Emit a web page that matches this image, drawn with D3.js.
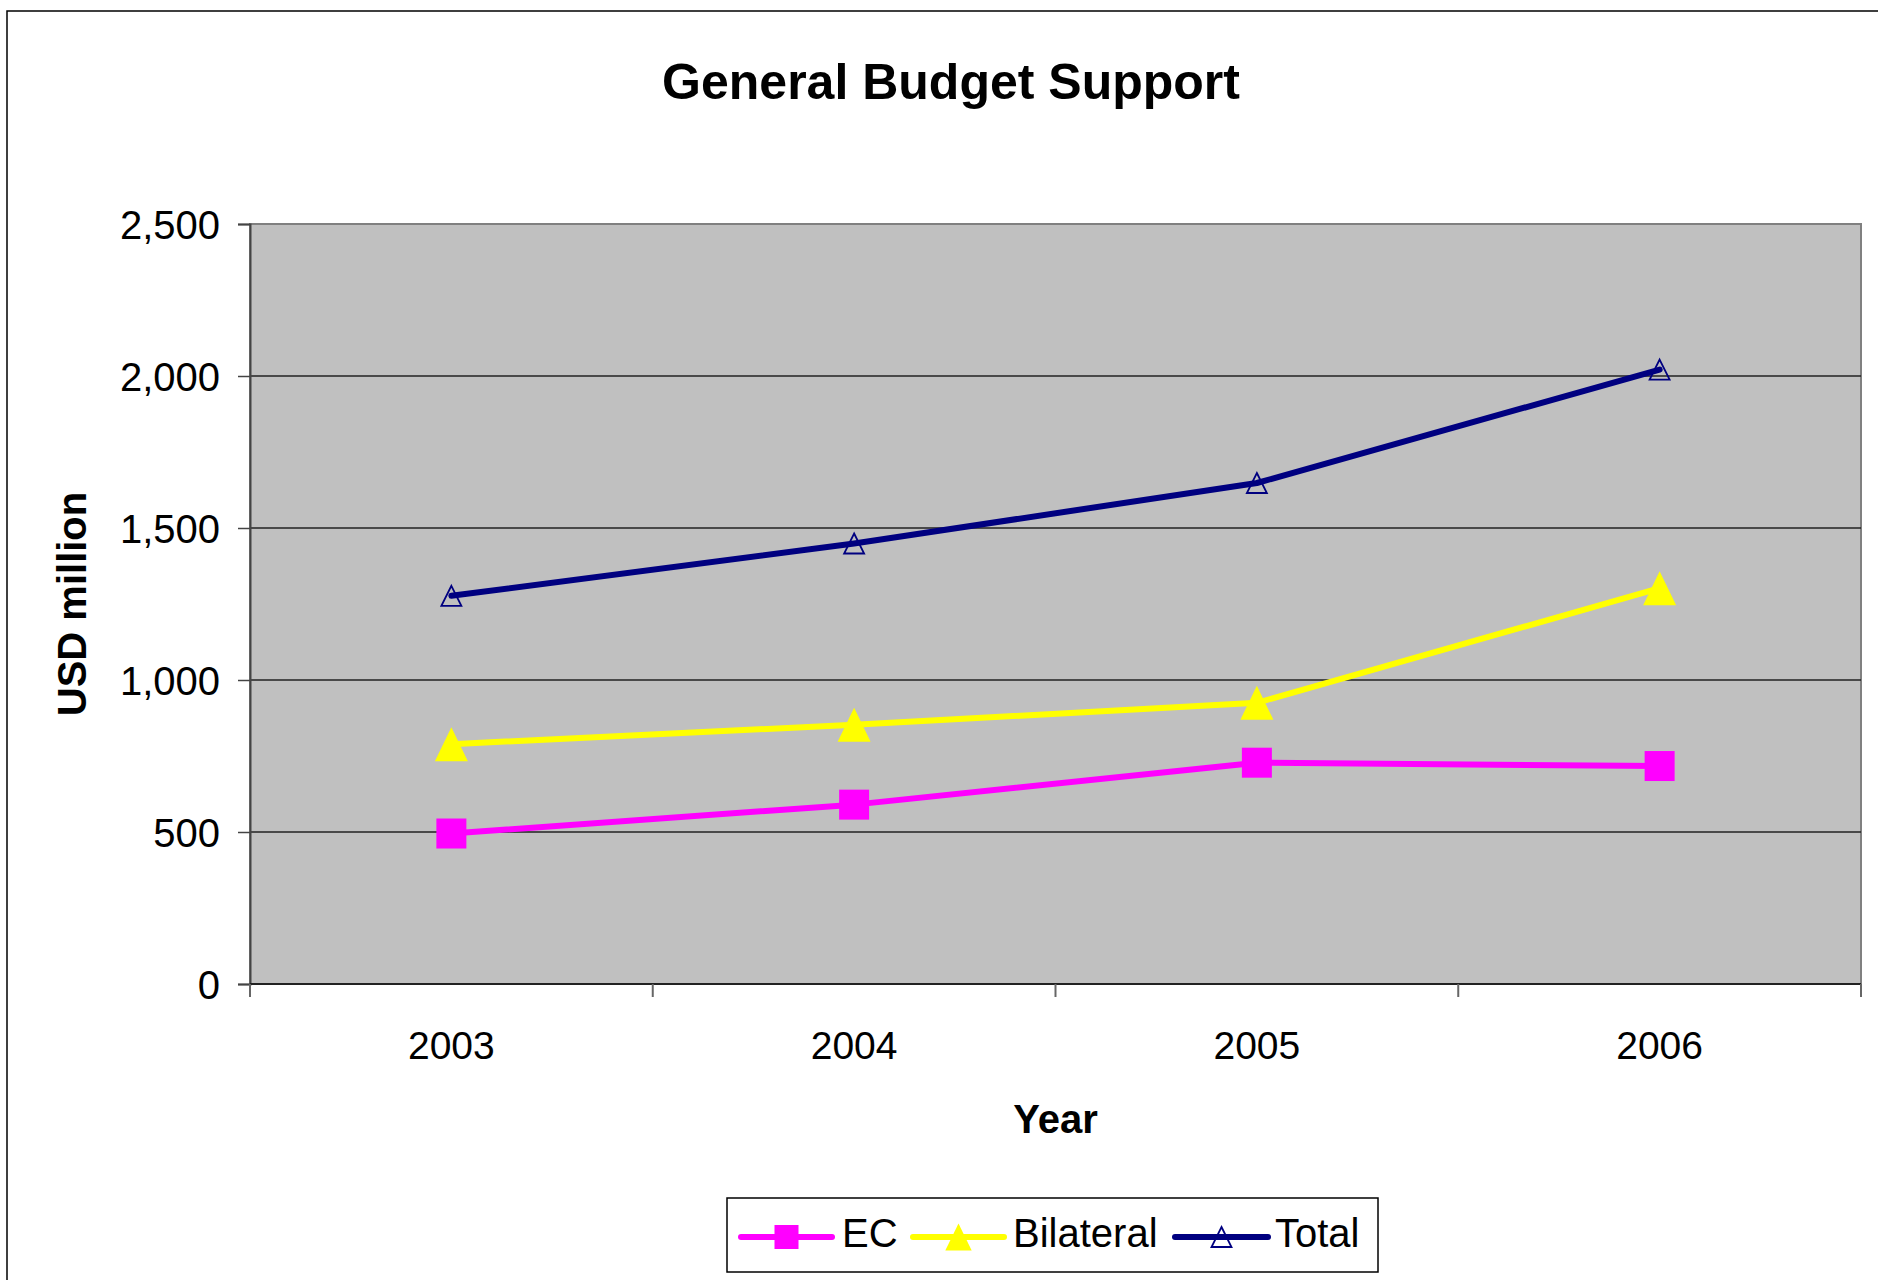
<!DOCTYPE html>
<html>
<head>
<meta charset="utf-8">
<script src="https://cdn.jsdelivr.net/npm/d3@7"></script>
<style>
  body { margin: 0; background: #fff; }
  svg { display: block; font-family: "Liberation Sans", Arial, sans-serif; }
</style>
</head>
<body>
<div id="chart"></div>
<script>
var w = 1878;
var h = 1280;

// data
var years = ["2003", "2004", "2005", "2006"];
var ec = [495, 590, 728, 717];
var bilateral = [789, 853, 925, 1302];
var total = [1277, 1449, 1648, 2021];
var yTicks = [0, 500, 1000, 1500, 2000, 2500];
var seriesNames = ["EC", "Bilateral", "Total"];

var series = [
  { name: seriesNames[0], values: ec, color: "#FF00FF", marker: "square" },
  { name: seriesNames[1], values: bilateral, color: "#FFFF00", marker: "triangle" },
  { name: seriesNames[2], values: total, color: "#000080", marker: "hollow" }
];

var plot = { left: 250, right: 1861, top: 224, bottom: 984 };

var svg = d3.select("#chart")
            .append("svg")
            .attr("width", w)
            .attr("height", h);

// outer chart border (right/bottom fall outside the window)
svg.append("rect")
   .attr("x", 7).attr("y", 11)
   .attr("width", 1900).attr("height", 1300)
   .attr("fill", "#fff")
   .attr("stroke", "#000")
   .attr("stroke-width", 1.5);

var x = d3.scaleBand()
          .domain(years)
          .range([plot.left, plot.right]);

var y = d3.scaleLinear()
          .domain([0, 2500])
          .range([plot.bottom, plot.top]);

// plot area
svg.append("rect")
   .attr("x", plot.left).attr("y", plot.top)
   .attr("width", plot.right - plot.left)
   .attr("height", plot.bottom - plot.top)
   .attr("fill", "#C0C0C0")
   .attr("stroke", "#808080")
   .attr("stroke-width", 2);

// gridlines
svg.selectAll("line.grid")
   .data(yTicks.filter(function(d){ return d > 0 && d < 2500; }))
   .enter()
   .append("line")
   .attr("class", "grid")
   .attr("x1", plot.left).attr("x2", plot.right)
   .attr("y1", function(d){ return y(d); })
   .attr("y2", function(d){ return y(d); })
   .attr("stroke", "#222")
   .attr("stroke-width", 1.5);

// y axis
var yAxis = svg.append("g")
   .attr("transform", "translate(" + plot.left + ",0)")
   .call(d3.axisLeft(y).tickValues(yTicks).tickFormat(d3.format(",")).tickSize(12).tickPadding(18));
yAxis.select(".domain").attr("stroke", "#444").attr("stroke-width", 2);
yAxis.selectAll(".tick line").attr("stroke", "#444").attr("stroke-width", 1.5);
yAxis.selectAll(".tick text")
     .attr("font-size", "40px")
     .attr("font-family", "Liberation Sans, Arial, sans-serif")
     .attr("fill", "#000")
     .attr("dy", "0.35em");

// x axis line and ticks at band edges
svg.append("line")
   .attr("x1", plot.left).attr("x2", plot.right)
   .attr("y1", plot.bottom).attr("y2", plot.bottom)
   .attr("stroke", "#222").attr("stroke-width", 2);

var edges = years.map(function(d){ return x(d); }).concat([plot.right]);
svg.selectAll("line.xtick")
   .data(edges)
   .enter()
   .append("line")
   .attr("class", "xtick")
   .attr("x1", function(d){ return d; })
   .attr("x2", function(d){ return d; })
   .attr("y1", plot.bottom)
   .attr("y2", plot.bottom + 13)
   .attr("stroke", "#666").attr("stroke-width", 2);

svg.selectAll("text.xlab")
   .data(years)
   .enter()
   .append("text")
   .attr("class", "xlab")
   .attr("x", function(d){ return x(d) + x.bandwidth() / 2; })
   .attr("y", 1059)
   .attr("text-anchor", "middle")
   .attr("font-size", "39px")
   .text(function(d){ return d; });

// titles
svg.append("text")
   .attr("x", 951).attr("y", 99)
   .attr("text-anchor", "middle")
   .attr("font-size", "50px")
   .attr("font-weight", "bold")
   .text("General Budget Support");

svg.append("text")
   .attr("x", (plot.left + plot.right) / 2).attr("y", 1133)
   .attr("text-anchor", "middle")
   .attr("font-size", "40px")
   .attr("font-weight", "bold")
   .text("Year");

svg.append("text")
   .attr("transform", "translate(86," + ((plot.top + plot.bottom) / 2) + ") rotate(-90)")
   .attr("text-anchor", "middle")
   .attr("font-size", "40px")
   .attr("font-weight", "bold")
   .text("USD million");

// marker drawing
function drawMarker(g, type, color, cx, cy, scale) {
  if (type == "square") {
    var s = 30 * scale;
    g.append("rect")
     .attr("x", cx - s / 2).attr("y", cy - s / 2)
     .attr("width", s).attr("height", s)
     .attr("fill", color);
  } else if (type == "triangle") {
    var tw = 33 * scale, th = 34 * scale;
    g.append("path")
     .attr("d", "M" + cx + "," + (cy - th / 2) + "L" + (cx + tw / 2) + "," + (cy + th / 2) + "L" + (cx - tw / 2) + "," + (cy + th / 2) + "Z")
     .attr("fill", color);
  } else {
    var hw = 20 * scale, hh = 20 * scale;
    g.append("path")
     .attr("d", "M" + cx + "," + (cy - hh / 2) + "L" + (cx + hw / 2) + "," + (cy + hh / 2) + "L" + (cx - hw / 2) + "," + (cy + hh / 2) + "Z")
     .attr("fill", "none")
     .attr("stroke", color)
     .attr("stroke-width", 1.8);
  }
}

var line = d3.line()
   .x(function(d, i){ return x(years[i]) + x.bandwidth() / 2; })
   .y(function(d){ return y(d); });

series.forEach(function(s){
  var g = svg.append("g");
  g.append("path")
   .attr("d", line(s.values))
   .attr("fill", "none")
   .attr("stroke", s.color)
   .attr("stroke-width", 6)
   .attr("stroke-linejoin", "round")
   .attr("stroke-linecap", "round");
  s.values.forEach(function(v, i){
    drawMarker(g, s.marker, s.color, x(years[i]) + x.bandwidth() / 2, y(v), 1);
  });
});

// legend
var legend = svg.append("g");
legend.append("rect")
   .attr("x", 727).attr("y", 1198)
   .attr("width", 651).attr("height", 74)
   .attr("fill", "#fff")
   .attr("stroke", "#000")
   .attr("stroke-width", 1.5);

var legendItems = [
  { x1: 741, x2: 832, tx: 842 },
  { x1: 913, x2: 1004, tx: 1013 },
  { x1: 1175, x2: 1268, tx: 1275 }
];
series.forEach(function(s, i){
  var it = legendItems[i];
  var ly = 1237;
  legend.append("line")
     .attr("x1", it.x1).attr("x2", it.x2)
     .attr("y1", ly).attr("y2", ly)
     .attr("stroke", s.color)
     .attr("stroke-width", 6)
     .attr("stroke-linecap", "round");
  drawMarker(legend, s.marker, s.color, (it.x1 + it.x2) / 2, ly, s.marker == "hollow" ? 1 : 0.8);
  legend.append("text")
     .attr("x", it.tx).attr("y", 1247)
     .attr("font-size", "40px")
     .text(s.name);
});
</script>
</body>
</html>
